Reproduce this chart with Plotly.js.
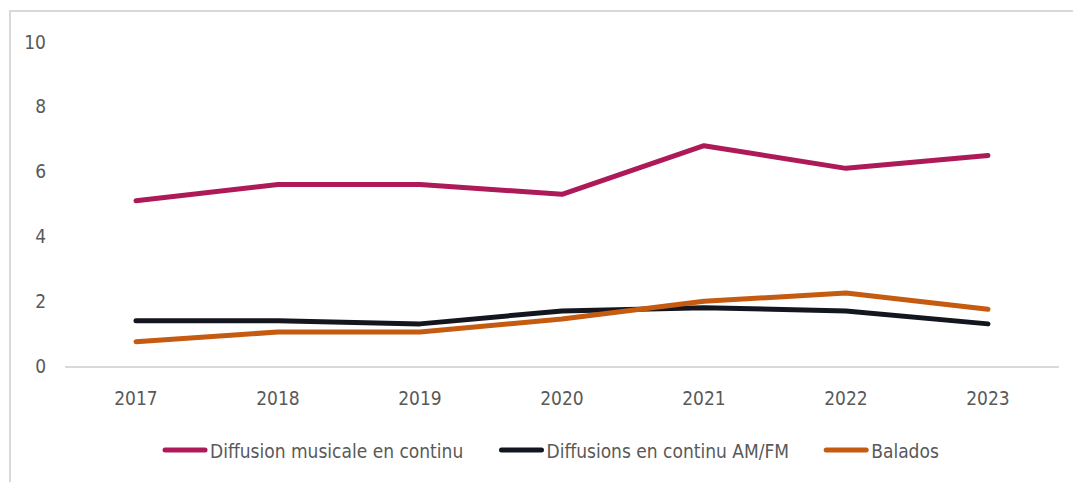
<!DOCTYPE html>
<html>
<head>
<meta charset="utf-8">
<script src="https://cdn.plot.ly/plotly-3.0.1.min.js"></script>
<style>
  html, body { margin: 0; padding: 0; background: #fff; overflow: hidden; }
  #frame { position: absolute; left: 9px; top: 10px; width: 1200px; height: 600px;
           border-left: 2px solid #d9d9d9; border-top: 2px solid #d9d9d9; pointer-events: none; z-index: 5; }
  #chart { position: absolute; left: 0; top: 0; width: 1073px; height: 482px; }
  .js-line { stroke-linecap: round; stroke-linejoin: round; }
  #chart text { font-stretch: condensed !important; }
</style>
</head>
<body>
<div id="chart"></div>
<div id="frame"></div>
<script>
const years = ['2017', '2018', '2019', '2020', '2021', '2022', '2023'];
const musicStreaming = [5.1, 5.6, 5.6, 5.3, 6.8, 6.1, 6.5];
const amfmStreaming = [1.4, 1.4, 1.3, 1.7, 1.8, 1.7, 1.3];
const podcasts = [0.75, 1.05, 1.05, 1.45, 2.0, 2.25, 1.75];
const seriesNames = ['Diffusion musicale en continu', 'Diffusions en continu AM/FM', 'Balados'];
const yTicks = [0, 2, 4, 6, 8, 10];

const FONT = '"DejaVu Sans", sans-serif';
const colors = ['#AD1A57', '#14161F', '#C55A11'];
const values = [musicStreaming, amfmStreaming, podcasts];

const traces = values.map((v, i) => ({
  x: years, y: v, name: seriesNames[i], type: 'scatter', mode: 'lines',
  line: { color: colors[i], width: 5 }, hoverinfo: 'skip'
}));

const layout = {
  width: 1073, height: 482,
  margin: { l: 65, r: 14, t: 42, b: 116 },
  paper_bgcolor: '#ffffff', plot_bgcolor: '#ffffff',
  font: { family: FONT, size: 19, color: '#595959' },
  showlegend: true,
  legend: {
    orientation: 'h', x: 0.494, xanchor: 'center', y: -0.26, yanchor: 'middle',
    font: { family: FONT, size: 19, color: '#595959' },
    itemwidth: 40, tracegroupgap: 0
  },
  xaxis: {
    type: 'category', range: [-0.5, 6.5], showgrid: false, zeroline: false,
    showline: true, linecolor: '#d9d9d9', linewidth: 2,
    ticks: '', ticklabelstandoff: 14,
    tickfont: { family: FONT, size: 19, color: '#595959' }
  },
  yaxis: {
    range: [0, 10], tickvals: yTicks, ticktext: yTicks.map(String),
    showgrid: false, zeroline: false, showline: false, ticks: '',
    ticklabelstandoff: 18,
    tickfont: { family: FONT, size: 19, color: '#595959' }
  }
};

Plotly.newPlot('chart', traces, layout, { displayModeBar: false, staticPlot: true });
</script>
</body>
</html>
